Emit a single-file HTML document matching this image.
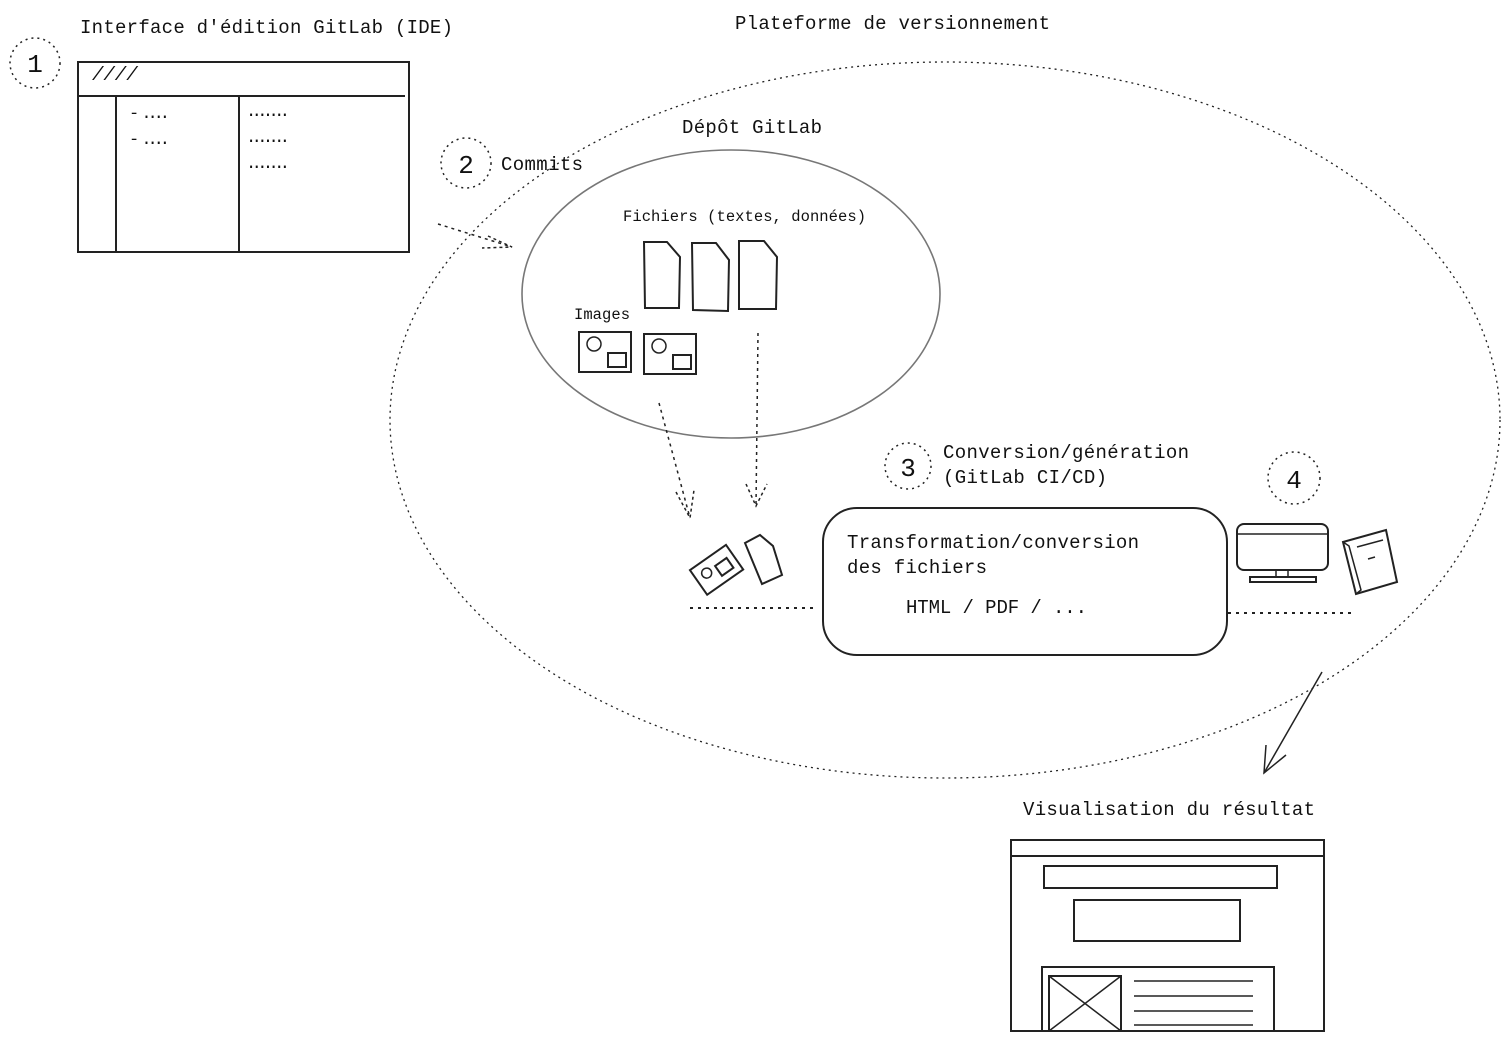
<!DOCTYPE html>
<html><head><meta charset="utf-8"><style>
html,body{margin:0;padding:0;background:#fff;}
svg{display:block;}
text{font-family:"Liberation Mono",monospace;fill:#111;}
</style></head><body>
<svg width="1509" height="1042" viewBox="0 0 1509 1042" xmlns="http://www.w3.org/2000/svg">
<g fill="none" stroke="#222" stroke-width="1.5">
<ellipse cx="945" cy="420" rx="555" ry="358" stroke-dasharray="2 4" stroke-width="1.3"/>
<ellipse cx="731" cy="294" rx="209" ry="144" stroke="#777" stroke-width="1.6"/>
<circle cx="35" cy="63" r="25" stroke-dasharray="2 4"/>
<circle cx="466" cy="163" r="25" stroke-dasharray="2 4"/>
<circle cx="908" cy="466" r="23" stroke-dasharray="2 4"/>
<circle cx="1294" cy="478" r="26" stroke-dasharray="2 4"/>
<rect x="78" y="62" width="331" height="190" stroke-width="2"/>
<line x1="78" y1="96" x2="405" y2="96" stroke-width="2"/>
<line x1="116" y1="96" x2="116" y2="252" stroke-width="2"/>
<line x1="239" y1="96" x2="239" y2="252" stroke-width="2"/>
<path d="M438 224 L512 247" stroke-dasharray="3 4"/>
<path d="M488 236 L512 247 L482 248" stroke-dasharray="3 3"/>
<path d="M644 242 L667 242 L680 257 L679 308 L645 308 Z" stroke-width="2"/>
<path d="M692 243 L716 243 L729 260 L728 311 L693 310 Z" stroke-width="2"/>
<path d="M739 241 L764 241 L777 257 L776 309 L739 309 Z" stroke-width="2"/>
<rect x="579" y="332" width="52" height="40" stroke-width="2"/>
<circle cx="594" cy="344" r="7"/>
<rect x="608" y="353" width="18" height="14" stroke-width="2"/>
<rect x="644" y="334" width="52" height="40" stroke-width="2"/>
<circle cx="659" cy="346" r="7"/>
<rect x="673" y="355" width="18" height="14" stroke-width="2"/>
<path d="M659 403 L690 518" stroke-dasharray="3 4"/>
<path d="M676 492 L690 518 L694 490" stroke-dasharray="3 3"/>
<path d="M758 333 L756 506" stroke-dasharray="3 4"/>
<path d="M746 484 L756 506 L767 484" stroke-dasharray="3 3"/>
<g transform="rotate(-35 716 569)">
<rect x="694" y="555" width="44" height="30" stroke-width="2"/>
<circle cx="706" cy="567" r="5"/>
<rect x="717" y="566" width="14" height="12" stroke-width="2"/>
</g>
<path d="M745 543 L760 535 L773 546 L782 575 L762 584 Z" stroke-width="2"/>
<line x1="690" y1="608" x2="818" y2="608" stroke-dasharray="3 5" stroke-width="2"/>
<line x1="1228" y1="613" x2="1356" y2="613" stroke-dasharray="3 5" stroke-width="2"/>
<rect x="823" y="508" width="404" height="147" rx="34" stroke-width="2"/>
<rect x="1237" y="524" width="91" height="46" rx="7" stroke-width="2"/>
<line x1="1238" y1="534" x2="1327" y2="534"/>
<rect x="1276" y="570" width="12" height="7"/>
<rect x="1250" y="577" width="66" height="5" stroke-width="2"/>
<path d="M1343 542 L1386 530 L1397 582 L1356 594 Z" stroke-width="2"/>
<path d="M1343 542 L1349 546 L1361 590 L1356 594"/>
<line x1="1357" y1="547" x2="1383" y2="540"/>
<line x1="1368" y1="559" x2="1375" y2="557"/>
<path d="M1322 672 L1264 773"/>
<path d="M1266 745 L1264 773 L1286 755"/>
<rect x="1011" y="840" width="313" height="191" stroke-width="2"/>
<line x1="1011" y1="856" x2="1324" y2="856" stroke-width="2"/>
<rect x="1044" y="866" width="233" height="22" stroke-width="2"/>
<rect x="1074" y="900" width="166" height="41" stroke-width="2"/>
<rect x="1042" y="967" width="232" height="64" stroke-width="2"/>
<rect x="1049" y="976" width="72" height="55" stroke-width="2"/>
<line x1="1049" y1="976" x2="1121" y2="1031"/>
<line x1="1121" y1="976" x2="1049" y2="1031"/>
<line x1="1134" y1="981" x2="1253" y2="981"/>
<line x1="1134" y1="996" x2="1253" y2="996"/>
<line x1="1134" y1="1011" x2="1253" y2="1011"/>
<line x1="1134" y1="1025" x2="1253" y2="1025"/>
</g>
<text x="80" y="33" font-size="19" textLength="373">Interface d'édition GitLab (IDE)</text>
<text x="735" y="29" font-size="19" textLength="315">Plateforme de versionnement</text>
<text x="682" y="133" font-size="19" textLength="140">Dépôt GitLab</text>
<text x="501" y="170" font-size="19" textLength="82">Commits</text>
<text x="623" y="221" font-size="15.5" textLength="243">Fichiers (textes, données)</text>
<text x="574" y="319" font-size="15.5" textLength="56">Images</text>
<text x="943" y="458" font-size="19" textLength="246">Conversion/génération</text>
<text x="943" y="483" font-size="19" textLength="164">(GitLab CI/CD)</text>
<text x="847" y="548" font-size="19" textLength="292">Transformation/conversion</text>
<text x="847" y="573" font-size="19" textLength="140">des fichiers</text>
<text x="906" y="613" font-size="19" textLength="181">HTML / PDF /  ...</text>
<text x="1023" y="815" font-size="19" textLength="292">Visualisation du résultat</text>
<text x="35" y="72" font-size="26" text-anchor="middle">1</text>
<text x="466" y="173" font-size="26" text-anchor="middle">2</text>
<text x="908" y="476" font-size="26" text-anchor="middle">3</text>
<text x="1294" y="488" font-size="26" text-anchor="middle">4</text>
<text x="92" y="80" font-size="19" font-style="italic">////</text>
<text x="129" y="118" font-size="17" textLength="41">- ....</text>
<text x="129" y="144" font-size="17" textLength="41">- ....</text>
<text x="246" y="116" font-size="17" textLength="44">.......</text>
<text x="246" y="142" font-size="17" textLength="44">.......</text>
<text x="246" y="168" font-size="17" textLength="44">.......</text>
</svg>
</body></html>
